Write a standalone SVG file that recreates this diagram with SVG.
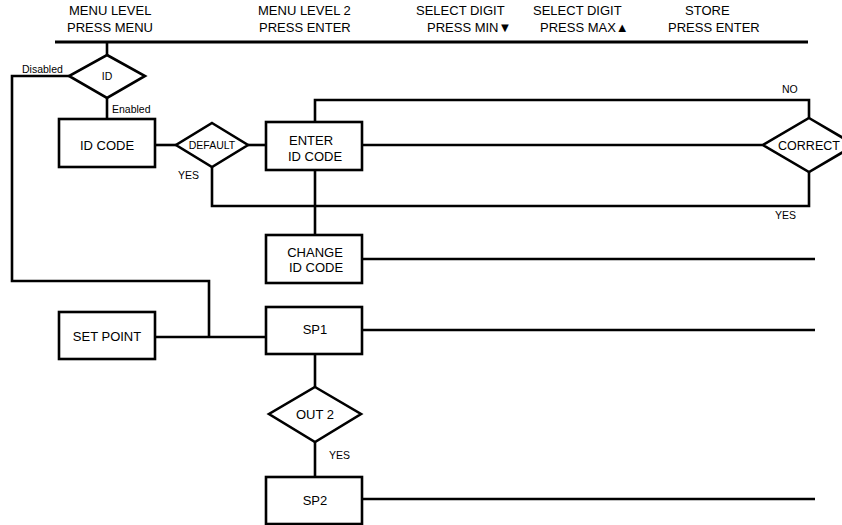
<svg xmlns="http://www.w3.org/2000/svg" width="842" height="525" viewBox="0 0 842 525">
<style>
.s{fill:#fff;stroke:#000;stroke-width:2.6}
.l{fill:none;stroke:#000;stroke-width:2.6}
text{font-family:"Liberation Sans",Arial,sans-serif;fill:#000}
.h{font-size:13px}
.b{font-size:13px;text-anchor:middle}
.sm{font-size:10.5px}
</style>
<rect width="842" height="525" fill="#fff"/>
<g id="header">
<text class="h" x="69" y="15">MENU LEVEL</text>
<text class="h" x="67" y="32">PRESS MENU</text>
<text class="h" x="258" y="15">MENU LEVEL 2</text>
<text class="h" x="259" y="32">PRESS ENTER</text>
<text class="h" x="416" y="15">SELECT DIGIT</text>
<text class="h" x="427" y="32">PRESS MIN▼</text>
<text class="h" x="533" y="15">SELECT DIGIT</text>
<text class="h" x="540" y="32">PRESS MAX▲</text>
<text class="h" x="685" y="15">STORE</text>
<text class="h" x="668" y="32">PRESS ENTER</text>
<line x1="55" y1="42" x2="808" y2="42" stroke="#000" stroke-width="3"/>
</g>
<g id="connectors">
<path class="l" d="M107 42V55"/>
<path class="l" d="M69 76H12V281H209V337"/>
<path class="l" d="M107 98V119"/>
<path class="l" d="M155 145H176"/>
<path class="l" d="M248 145H266"/>
<path class="l" d="M362 145H763"/>
<path class="l" d="M315 122V100H809V118"/>
<path class="l" d="M212 167V206H809V172"/>
<path class="l" d="M315 170V235"/>
<path class="l" d="M362 259H815"/>
<path class="l" d="M155 337H266"/>
<path class="l" d="M362 330H815"/>
<path class="l" d="M315 354V387"/>
<path class="l" d="M315 442V477"/>
<path class="l" d="M362 499H815"/>
<text class="sm" x="22" y="73">Disabled</text>
<text class="sm" x="112" y="113">Enabled</text>
<text class="sm" x="178" y="179">YES</text>
<text class="sm" x="782" y="93">NO</text>
<text class="sm" x="775" y="219">YES</text>
<text class="sm" x="329" y="459">YES</text>
</g>
<g id="id-diamond">
<polygon class="s" points="107,55 145,76 107,98 69,76"/>
<text class="b" x="107" y="80" style="font-size:10.5px">ID</text>
</g>
<g id="id-code">
<rect class="s" x="59" y="119" width="96" height="48"/>
<text class="b" x="107" y="150">ID CODE</text>
</g>
<g id="default">
<polygon class="s" points="212,123 248,145 212,167 176,145"/>
<text class="b" x="212" y="149" style="font-size:10.5px">DEFAULT</text>
</g>
<g id="enter-id-code">
<rect class="s" x="266" y="122" width="96" height="48"/>
<text class="h" x="289" y="145">ENTER</text>
<text class="h" x="288" y="161">ID CODE</text>
</g>
<g id="correct">
<polygon class="s" points="809,118 855,145 809,172 763,145"/>
<text class="b" x="809" y="150" style="font-size:12.5px">CORRECT</text>
</g>
<g id="change-id-code">
<rect class="s" x="266" y="235" width="96" height="48"/>
<text class="b" x="315" y="257">CHANGE</text>
<text class="b" x="316" y="272">ID CODE</text>
</g>
<g id="set-point">
<rect class="s" x="59" y="312" width="96" height="47"/>
<text class="b" x="107" y="341">SET POINT</text>
</g>
<g id="sp1">
<rect class="s" x="266" y="307" width="96" height="47"/>
<text class="b" x="315" y="334">SP1</text>
</g>
<g id="out2">
<polygon class="s" points="315,387 361,414 315,442 269,414"/>
<text class="b" x="315" y="419">OUT 2</text>
</g>
<g id="sp2">
<rect class="s" x="266" y="477" width="96" height="47"/>
<text class="b" x="315" y="505">SP2</text>
</g>
</svg>
